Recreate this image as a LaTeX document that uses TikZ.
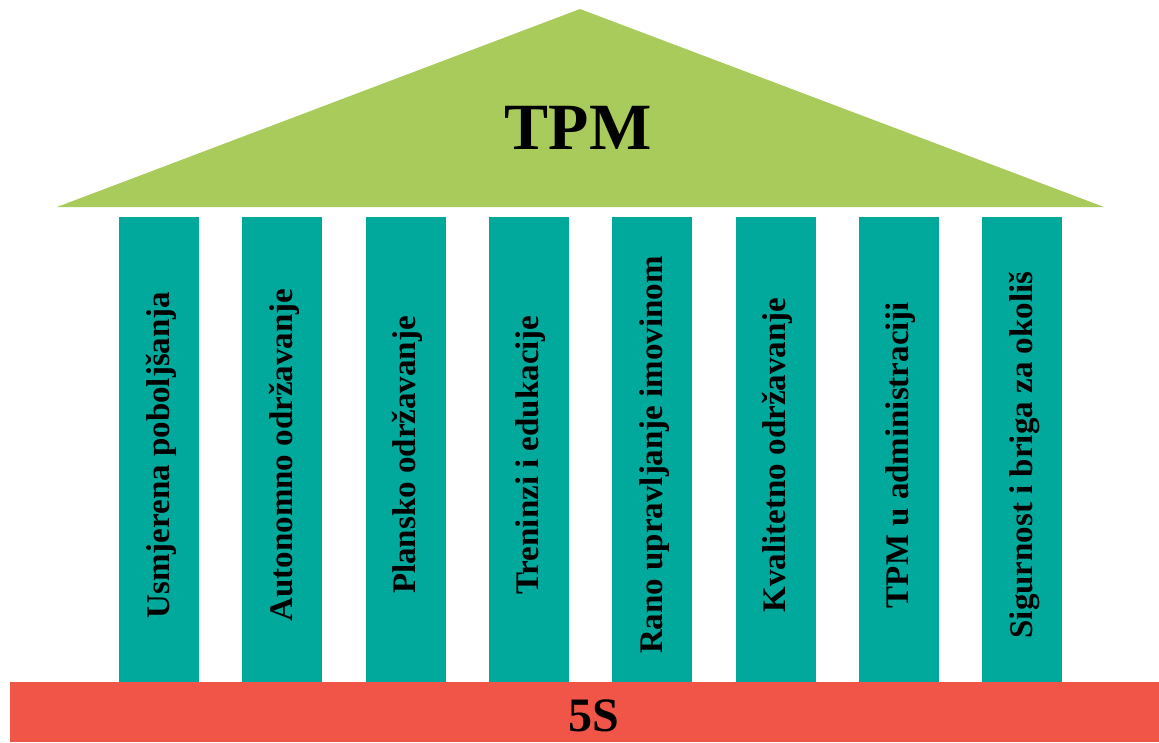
\documentclass[tikz,border=0pt]{standalone}
\usepackage{fontspec}
\setmainfont{Liberation Serif}
\usetikzlibrary{positioning}

\definecolor{roofgreen}{HTML}{A8CB5C}
\definecolor{pillarteal}{HTML}{00A99B}
\definecolor{basered}{HTML}{F05547}

\begin{document}
\begin{tikzpicture}[x=1pt, y=1pt,
    pillar/.style={fill=pillarteal, draw=none, minimum width=80pt,
        minimum height=465pt, inner sep=0pt},
    pillartext/.style={rotate=90, inner sep=0pt, font=\fontsize{33}{36}\selectfont\bfseries},
    title/.style={font=\fontsize{66}{70}\selectfont\bfseries, inner sep=0pt}]

    \useasboundingbox (0,0) rectangle (1159,-742);

    % Roof
    \fill[roofgreen] (57,-207) -- (580,-9) -- (1104,-207) -- cycle;
    \node[title] (tpm) at (578,-128) {TPM};

    % Pillars
    \foreach \txt [count=\i from 0] in {Usmjerena poboljšanja, Autonomno održavanje,
        Plansko održavanje, Treninzi i edukacije, Rano upravljanje imovinom,
        Kvalitetno održavanje, TPM u administraciji, Sigurnost i briga za okoliš}
    {
        \node[pillar] (p\i) at ({159+123.3*\i},-449.5) {};
        \node[pillartext] (t\i) at ({161+123.3*\i},-455) {\txt};
    }

    % Base
    \fill[basered] (10,-682) rectangle (1159,-742);
    \node[font=\fontsize{48}{50}\selectfont\bfseries, inner sep=0pt] (base) at (594,-716) {5S};

\end{tikzpicture}
\end{document}
